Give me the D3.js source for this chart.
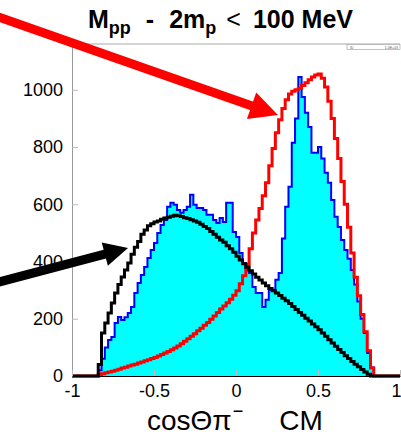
<!DOCTYPE html>
<html>
<head>
<meta charset="utf-8">
<script src="https://cdn.jsdelivr.net/npm/d3@7"></script>
<style>
  html, body { margin: 0; padding: 0; background: #fff; }
  svg { display: block; font-family: "Liberation Sans", Arial, Helvetica, sans-serif; }
</style>
</head>
<body>
<svg id="chart" width="401" height="436"></svg>
<script>
// histogram bins: 0.02 wide, first bin starts at -0.84 (84 bins up to 0.84)
const binStart = -0.84;
const binWidth = 0.02;

// data (cyan fill, blue outline)
const dataCounts = [
  20, 60, 100, 126, 136, 185, 206, 196, 205, 220,
  241, 290, 325, 353, 381, 412, 440, 465, 500, 528,
  545, 591, 605, 598, 580, 570, 580, 591, 633, 598,
  587, 587, 580, 563, 563, 545, 535, 552, 538, 605,
  605, 503, 486, 430, 395, 370, 360, 311, 290, 290,
  241, 266, 301, 301, 336, 360, 480, 591, 661, 815,
  900, 1045, 975, 920, 870, 780, 780, 800, 760, 710,
  675, 615, 556, 521, 475, 440, 410, 370, 320, 260,
  200, 150, 80, 30
];

// red simulation
const redCounts = [
  5, 8, 11, 14, 17, 20, 24, 28, 31, 35,
  38, 41, 45, 49, 53, 57, 61, 65, 70, 75,
  80, 86, 92, 98, 105, 113, 121, 130, 139, 148,
  158, 167, 177, 187, 198, 210, 222, 234, 245, 256,
  268, 282, 298, 322, 350, 390, 445, 500, 545, 585,
  630, 675, 735, 795, 850, 895, 935, 965, 985, 995,
  1000, 1005, 1015, 1025, 1035, 1045, 1052, 1055, 1040, 1010,
  960, 900, 830, 760, 680, 600, 520, 430, 345, 280,
  215, 155, 88, 28
];

// black simulation
const blackCounts = [
  40, 150, 185, 220, 255, 290, 320, 346, 370, 395,
  425, 450, 470, 495, 510, 525, 532, 538, 542, 548,
  552, 555, 558, 562, 560, 557, 553, 550, 546, 542,
  537, 530, 522, 515, 505, 495, 485, 475, 467, 455,
  445, 432, 418, 405, 392, 380, 368, 356, 345, 335,
  325, 315, 306, 298, 290, 281, 272, 263, 253, 243,
  232, 222, 212, 202, 192, 182, 172, 162, 150, 139,
  127, 115, 104, 93, 82, 71, 61, 51, 41, 32,
  23, 14, 6, 0
];

const xTicks = [-1, -0.5, 0, 0.5, 1];
const yTicks = [0, 200, 400, 600, 800, 1000];

const svg = d3.select('#chart');

const x = d3.scaleLinear().domain([-1, 1]).range([72, 400]);
const y = d3.scaleLinear().domain([0, 1160]).range([376, 44]);

// step points: (lowEdge, value) pairs, padded with zero at both ends
function stepPoints(counts) {
  const pts = [[-1, 0]];
  counts.forEach((v, i) => pts.push([binStart + i * binWidth, v]));
  pts.push([binStart + counts.length * binWidth, 0]);
  pts.push([1, 0]);
  return pts;
}

const area = d3.area()
  .x(d => x(d[0]))
  .y0(y(0))
  .y1(d => y(d[1]))
  .curve(d3.curveStepAfter);

const line = d3.line()
  .x(d => x(d[0]))
  .y(d => y(d[1]))
  .curve(d3.curveStepAfter);

// frame
svg.append('line')
  .attr('x1', 72).attr('x2', 400).attr('y1', 44).attr('y2', 44)
  .attr('stroke', '#aaa').attr('stroke-width', 1);

// stats box in the corner
const box = svg.append('g');
box.append('rect')
  .attr('x', 347).attr('y', 44.5).attr('width', 53).attr('height', 5)
  .attr('fill', '#fff').attr('stroke', '#999').attr('stroke-width', 0.6);
box.append('text').attr('x', 350).attr('y', 48.5)
  .attr('font-size', 3.5).attr('fill', '#555').text('ID');
box.append('text').attr('x', 398).attr('y', 48.5)
  .attr('font-size', 3.5).attr('fill', '#555').attr('text-anchor', 'end').text('1.0E+03');

// histograms
svg.append('path')
  .attr('d', area(stepPoints(dataCounts)))
  .attr('fill', '#00ffff');

svg.append('path')
  .attr('d', line(stepPoints(dataCounts)))
  .attr('fill', 'none').attr('stroke', '#0000ff').attr('stroke-width', 2);

svg.append('path')
  .attr('d', line(stepPoints(redCounts)))
  .attr('fill', 'none').attr('stroke', '#ff0000').attr('stroke-width', 3);

svg.append('path')
  .attr('d', line(stepPoints(blackCounts)))
  .attr('fill', 'none').attr('stroke', '#000').attr('stroke-width', 3);

// axes
const yAxis = svg.append('g')
  .attr('transform', `translate(${x(-1)},0)`)
  .call(d3.axisLeft(y).tickValues(yTicks).tickSize(-6).tickSizeOuter(0).tickPadding(9)
    .tickFormat(d3.format('d')));

const xAxis = svg.append('g')
  .attr('transform', `translate(0,${y(0)})`)
  .call(d3.axisBottom(x).tickValues(xTicks).tickSize(-6).tickSizeOuter(0).tickPadding(8)
    .tickFormat(d => String(d)));

[yAxis, xAxis].forEach(g => {
  g.select('.domain').attr('stroke', '#999');
  g.selectAll('.tick line').attr('stroke', '#bbb');
  g.selectAll('.tick text')
    .attr('font-size', 18)
    .attr('font-family', '"Liberation Sans", Arial, sans-serif')
    .attr('fill', '#000');
});
xAxis.select('.domain').attr('stroke', '#000');
// last label sits at the window edge; keep it inside
xAxis.selectAll('.tick text').filter(d => d === 1)
  .attr('text-anchor', 'end').attr('x', 1);

// title
const title = svg.append('text')
  .attr('x', 88).attr('y', 28)
  .attr('font-size', 25).attr('font-weight', 'bold');
title.append('tspan').text('M');
title.append('tspan').attr('font-size', 18).attr('dy', 6).text('pp');
title.append('tspan').attr('dy', -6).attr('dx', 15).text('-');
title.append('tspan').attr('dx', 15).text('2m');
title.append('tspan').attr('font-size', 18).attr('dy', 6).text('p');
title.append('tspan').attr('dy', -6).attr('dx', 10).attr('font-weight', 'normal').text('<');
title.append('tspan').attr('dx', 12).text('100 MeV');

// x axis label
const xlabel = svg.append('text')
  .attr('x', 147).attr('y', 430)
  .attr('font-size', 28);
xlabel.append('tspan').text('cosΘπ');
xlabel.append('tspan').attr('font-size', 18).attr('dy', -13).attr('dx', 1).text('−');
xlabel.append('tspan').attr('dy', 13).attr('dx', 36).text('CM');

// arrows
function arrow(x0, y0, x1, y1, w, headLen, headHalf, color) {
  const dx = x1 - x0, dy = y1 - y0;
  const len = Math.hypot(dx, dy);
  const ux = dx / len, uy = dy / len;
  const px = -uy, py = ux;
  const bx = x1 - ux * headLen, by = y1 - uy * headLen;
  svg.append('line')
    .attr('x1', x0).attr('y1', y0).attr('x2', bx + ux * 2).attr('y2', by + uy * 2)
    .attr('stroke', color).attr('stroke-width', w);
  svg.append('polygon')
    .attr('points', [
      [x1, y1],
      [bx + px * headHalf, by + py * headHalf],
      [bx - px * headHalf, by - py * headHalf]
    ].map(p => p.join(',')).join(' '))
    .attr('fill', color);
}

arrow(-20, 10.5, 278, 115, 9, 28, 14, '#ff0000');
arrow(-20, 287, 128, 248, 9, 24, 12, '#000');
</script>
</body>
</html>
